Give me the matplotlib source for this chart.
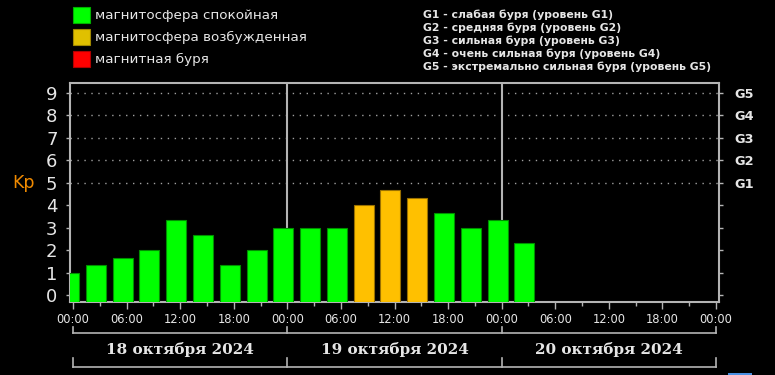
"""Kp index chart, 18-20 October 2024 (three-hour bars on black)."""
import matplotlib
matplotlib.use('Agg')
import matplotlib.pyplot as plt
from matplotlib.patches import Rectangle

# data
hours = [0, 3, 6, 9, 12, 15, 18, 21, 24, 27, 30, 33, 36, 39, 42, 45, 48, 51]
kp = [1.0, 1.33, 1.67, 2.0, 3.33, 2.67, 1.33, 2.0, 3.0,
      3.0, 3.0, 4.0, 4.67, 4.33, 3.67, 3.0, 3.33, 2.33]
status = ['quiet'] * 11 + ['active'] * 3 + ['quiet'] * 4
time_labels = ['00:00', '06:00', '12:00', '18:00'] * 3 + ['00:00']
days = ['18 октября 2024', '19 октября 2024', '20 октября 2024']
g_levels = ['G1', 'G2', 'G3', 'G4', 'G5']
g_legend = [
    'G1 - слабая буря (уровень G1)',
    'G2 - средняя буря (уровень G2)',
    'G3 - сильная буря (уровень G3)',
    'G4 - очень сильная буря (уровень G4)',
    'G5 - экстремально сильная буря (уровень G5)',
]
legend_items = [
    ('магнитосфера спокойная', '#00FF00', '#00B000'),
    ('магнитосфера возбужденная', '#E0C000', '#A08800'),
    ('магнитная буря', '#FF0000', '#B00000'),
]

fill = {'quiet': '#00FF00', 'active': '#FFC000'}
edge = {'quiet': '#009000', 'active': '#9A7000'}
fg = '#E6E6E6'
axis_col = '#B4B4B4'

W, H = 775, 375
fig = plt.figure(figsize=(W / 100, H / 100), dpi=100, facecolor='black')
# plot area: x 70..719, y 83..302 px
ax = fig.add_axes([70 / W, 1 - 302 / H, (719 - 70) / W, (302 - 83) / H])
ax.set_facecolor('black')
ymin, ymax = -0.3, 9.43
ax.set_xlim(-0.34, 72.34)
ax.set_ylim(ymin, ymax)

# bars sit a bit left of their start hour, as in the source
for h, v, s in zip(hours, kp, status):
    ax.bar(h - 0.45, v - ymin, bottom=ymin, width=2.24, color=fill[s],
           edgecolor=edge[s], linewidth=0.8, zorder=3)

# dotted storm levels and day separators
for lvl in range(5, 10):
    ax.axhline(lvl, color='#A0A0A0', linestyle=(0, (1, 4)), linewidth=1.0, zorder=1)
for d in (24, 48):
    ax.axvline(d, color=axis_col, linewidth=1.5, zorder=2)

for sp in ax.spines.values():
    sp.set_color(axis_col)
    sp.set_linewidth(1.5)

ax.set_yticks(range(10))
ax.tick_params(axis='y', colors=axis_col, labelcolor=fg, labelsize=13,
               length=3, width=1, pad=6)
ax.set_xticks(range(0, 73, 6))
ax.set_xticklabels(time_labels)
ax.set_xticks(range(3, 73, 6), minor=True)
ax.tick_params(axis='x', which='major', colors=axis_col, labelcolor=fg,
               labelsize=8.3, length=5, width=1, pad=3)
ax.tick_params(axis='x', which='minor', colors=axis_col, length=3, width=1)

ax2 = ax.twinx()
ax2.set_ylim(ymin, ymax)
ax2.set_yticks(range(10))
ax2.set_yticklabels([''] * 5 + g_levels)
ax2.tick_params(axis='y', colors=axis_col, labelcolor=fg, labelsize=9.3,
                length=3, width=1, pad=8)
for lab in ax2.get_yticklabels():
    lab.set_fontweight('bold')
for sp in ax2.spines.values():
    sp.set_visible(False)

# day brackets below the time axis
tr = ax.get_xaxis_transform()
for y0, y1 in ((-0.1416, -0.114), (-0.295, -0.256)):
    ax.plot([0, 72], [y0, y0], color=axis_col, lw=1.2, transform=tr, clip_on=False)
    for d in (0, 24, 48, 72):
        ax.plot([d, d], [y0, y1], color=axis_col, lw=1.2, transform=tr, clip_on=False)
for i, name in enumerate(days):
    ax.text(24 * i + 12, -0.219, name, transform=tr, ha='center', va='center',
            color=fg, fontsize=11, fontweight='bold', family='DejaVu Serif')

fig.text(23 / W, 1 - 183 / H, 'Kp', color='#F08A00', fontsize=12.5,
         ha='center', va='center')

# colour legend, top left
for i, (label, fc, ec) in enumerate(legend_items):
    yc = 15 + 22 * i
    fig.patches.append(Rectangle((73 / W, 1 - (yc + 8) / H), 17 / W, 16 / H,
                                 facecolor=fc, edgecolor=ec, linewidth=0.8,
                                 transform=fig.transFigure))
    fig.text(95 / W, 1 - yc / H, label, color=fg, fontsize=9.7, va='center')

# storm level legend, top right
for i, line in enumerate(g_legend):
    fig.text(423 / W, 1 - (15 + 13 * i) / H, line, color=fg, fontsize=7.8,
             fontweight='bold', va='center')

# bit of a blue element cut off at the bottom edge
fig.patches.append(Rectangle((728 / W, 0), 24 / W, 2.5 / H, facecolor='#4A90E2',
                             edgecolor='none', transform=fig.transFigure))

fig.savefig('out.png', dpi=100, facecolor='black')
